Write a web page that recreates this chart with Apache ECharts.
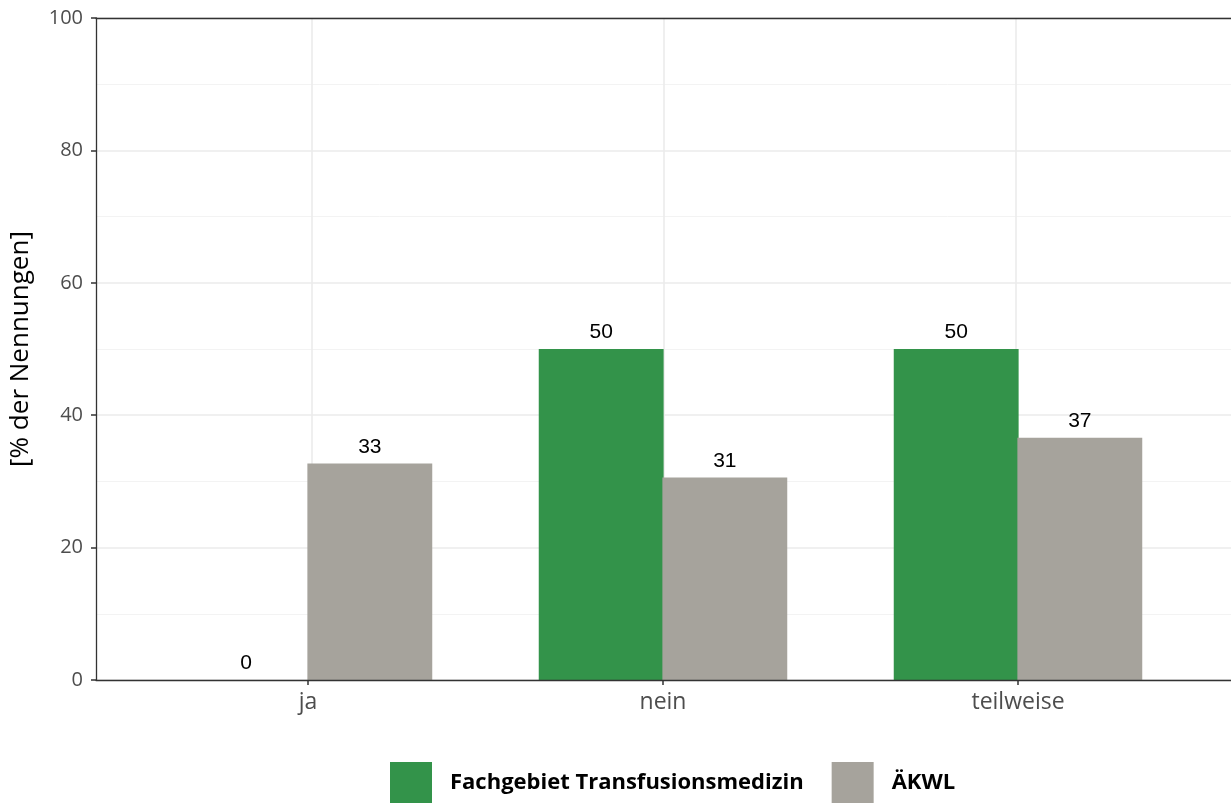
<!DOCTYPE html>
<html><head><meta charset="utf-8">
<script src="https://cdn.jsdelivr.net/npm/echarts@6/dist/echarts.min.js"></script>
<style>html,body{margin:0;padding:0;background:#fff}#c{width:1231px;height:803px}</style>
</head><body><div id="c"></div>
<script>
const categories = ['ja', 'nein', 'teilweise'];
const fachgebiet = [0, 50, 50];
const aekwl = [32.7, 30.6, 36.6];
const seriesNames = ['Fachgebiet Transfusionsmedizin', 'ÄKWL'];
const yTicks = [0, 20, 40, 60, 80, 100];

const chart = echarts.init(document.getElementById('c'));
const labelStyle = {show: true, position: 'top', distance: 6, color: '#000', fontSize: 21,
  fontFamily: 'Liberation Sans, Arial', formatter: p => Math.round(p.value)};
const darkLine = {show: true, onZero: false, lineStyle: {color: '#333', width: 1.3}};
chart.setOption({
  animation: false,
  grid: [
    {left: 95, right: 0, top: 18, bottom: 123},
    {left: 130.5, right: 35.5, top: 18, bottom: 123}
  ],
  xAxis: [
    {gridIndex: 0, type: 'value', min: 0, max: 1, position: 'bottom', axisLine: darkLine,
      axisTick: {show: false}, axisLabel: {show: false}, splitLine: {show: false}, z: 5},
    {gridIndex: 1, type: 'category', data: categories,
      axisLine: {show: false},
      axisTick: {show: true, alignWithLabel: true, length: 5, lineStyle: {color: '#333', width: 1.5}},
      axisLabel: {color: '#4d4d4d', fontSize: 23, fontFamily: 'Open Sans', margin: 11},
      splitLine: {show: false}},
    {gridIndex: 0, type: 'value', min: 0, max: 1, position: 'top', axisLine: darkLine,
      axisTick: {show: false}, axisLabel: {show: false}, splitLine: {show: false}, z: 5}
  ],
  yAxis: [
    {gridIndex: 0, type: 'value', min: 0, max: 100, interval: 20,
      name: '[% der Nennungen]', nameLocation: 'middle', nameGap: 62, nameRotate: 90,
      nameTextStyle: {color: '#000', fontSize: 26, fontFamily: 'Open Sans'},
      axisLine: darkLine,
      axisTick: {show: true, length: 5, lineStyle: {color: '#333', width: 1.5}},
      axisLabel: {color: '#4d4d4d', fontSize: 20, fontFamily: 'Open Sans', margin: 13,
        formatter: v => yTicks.includes(v) ? String(v) : ''},
      splitLine: {show: true, lineStyle: {color: '#ebebeb', width: 1.6}},
      minorTick: {show: false, splitNumber: 2},
      minorSplitLine: {show: true, lineStyle: {color: '#f3f3f3', width: 1}}},
    {gridIndex: 1, type: 'value', min: 0, max: 100, show: false},
    {gridIndex: 0, type: 'value', min: 0, max: 100, position: 'right',
      axisLine: {show: true, onZero: false, lineStyle: {color: '#e6e6e6', width: 1}},
      axisTick: {show: false}, axisLabel: {show: false}, splitLine: {show: false}}
  ],
  legend: {
    data: seriesNames, top: 762, left: 390, padding: 0, icon: 'rect', itemWidth: 42, itemHeight: 42, itemGap: 28,
    textStyle: {fontSize: 22, fontWeight: 'bold', color: '#000', fontFamily: 'Open Sans', padding: [0, 0, 0, 13]}
  },
  series: [
    {type: 'line', xAxisIndex: 0, yAxisIndex: 0, data: [], z: 1, silent: true,
      markLine: {silent: true, z: 1, symbol: 'none', label: {show: false},
        lineStyle: {color: '#ebebeb', width: 1.6, type: 'solid'},
        data: categories.map((c, i) => ({xAxis: (i + 1 - 0.4) / 3.2}))}},
    {name: seriesNames[0], type: 'bar', xAxisIndex: 1, yAxisIndex: 1, data: fachgebiet, z: 3,
      barGap: '-1%', barCategoryGap: '30%', itemStyle: {color: '#33934a'}, label: labelStyle},
    {name: seriesNames[1], type: 'bar', xAxisIndex: 1, yAxisIndex: 1, data: aekwl, z: 3,
      itemStyle: {color: '#a6a39c'}, label: labelStyle}
  ]
});
</script></body></html>
